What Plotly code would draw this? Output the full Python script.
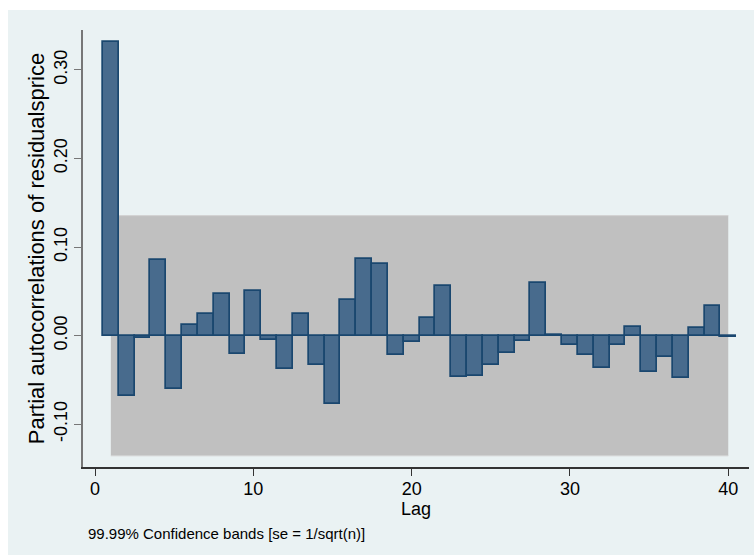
import plotly.graph_objects as go

# Partial autocorrelations of residualsprice, lags 1..40
lags = list(range(1, 41))
pac = [0.332, -0.068, -0.003, 0.086, -0.060, 0.012, 0.024, 0.047, -0.021, 0.051,
       -0.005, -0.038, 0.025, -0.033, -0.077, 0.040, 0.087, 0.081, -0.022, -0.007,
       0.020, 0.056, -0.047, -0.045, -0.033, -0.019, -0.006, 0.059, 0.001, -0.010,
       -0.022, -0.037, -0.010, 0.010, -0.041, -0.024, -0.048, 0.009, 0.033, -0.001]

# 99.99% confidence band, se = 1/sqrt(n)
band_hi = [0.1356] * len(lags)
band_lo = [-0.1356] * len(lags)

y_ticks = [-0.10, 0.00, 0.10, 0.20, 0.30]
y_tick_text = ["-0.10", "0.00", "0.10", "0.20", "0.30"]
x_ticks = [0, 10, 20, 30, 40]

FONT = "Liberation Sans, Arial, Helvetica, sans-serif"
BG = "#EAF2F3"
X_RANGE = [-0.76, 41.31]
Y_RANGE = [-0.1482, 0.3451]

fig = go.Figure()

# confidence band (main axes, above gridlines)
fig.add_trace(go.Scatter(
    x=lags, y=band_lo, mode="lines", line=dict(color="#d3d3d3", width=1),
    hoverinfo="skip", showlegend=False, xaxis="x", yaxis="y"))
fig.add_trace(go.Scatter(
    x=lags, y=band_hi, mode="lines", line=dict(color="#d3d3d3", width=1),
    fill="tonexty", fillcolor="#c0c0c0", hoverinfo="skip", showlegend=False,
    xaxis="x", yaxis="y"))

# PAC bars on an overlay so they sit above the band
fig.add_trace(go.Bar(
    x=lags, y=pac, width=1,
    marker=dict(color="#486b8d", line=dict(color="#1a476f", width=1.7)),
    showlegend=False, xaxis="x2", yaxis="y2"))

fig.update_layout(
    width=755, height=555,
    margin=dict(l=83, r=6, t=30, b=88),
    paper_bgcolor="white", plot_bgcolor="white",
    font=dict(family=FONT, color="#000000"),
    bargap=0,
    xaxis=dict(
        range=X_RANGE, tickvals=x_ticks, ticks="outside", ticklen=7,
        tickcolor="#333333", tickwidth=1.2,
        showline=True, linecolor="#333333", linewidth=1.5,
        showgrid=False, zeroline=False, ticklabelstandoff=-2,
        tickfont=dict(size=18, family=FONT),
        title=dict(text="Lag", font=dict(size=18, family=FONT), standoff=0),
    ),
    yaxis=dict(
        range=Y_RANGE, tickvals=y_ticks, ticktext=y_tick_text, tickangle=-90,
        ticks="outside", ticklen=7, tickcolor="#777777", tickwidth=1.2,
        showline=True, linecolor="#777777", linewidth=1.5,
        showgrid=True, gridcolor=BG, gridwidth=1.5, zeroline=False,
        tickfont=dict(size=18, family=FONT),
        title=dict(text="Partial autocorrelations of residualsprice",
                   font=dict(size=22, family=FONT), standoff=0),
    ),
    xaxis2=dict(range=X_RANGE, overlaying="x", visible=False),
    yaxis2=dict(range=Y_RANGE, overlaying="y", visible=False),
    shapes=[dict(type="rect", xref="paper", yref="paper",
                 x0=-0.1126, x1=1.0075, y0=-0.21, y1=1.0458,
                 fillcolor=BG, line=dict(width=0), layer="below")],
    annotations=[dict(text="99.99% Confidence bands [se = 1/sqrt(n)]",
                      xref="paper", yref="paper", x=0.005, y=-0.153,
                      xanchor="left", yanchor="middle", showarrow=False,
                      font=dict(size=15, family=FONT))],
)

fig.write_html("out.html")
